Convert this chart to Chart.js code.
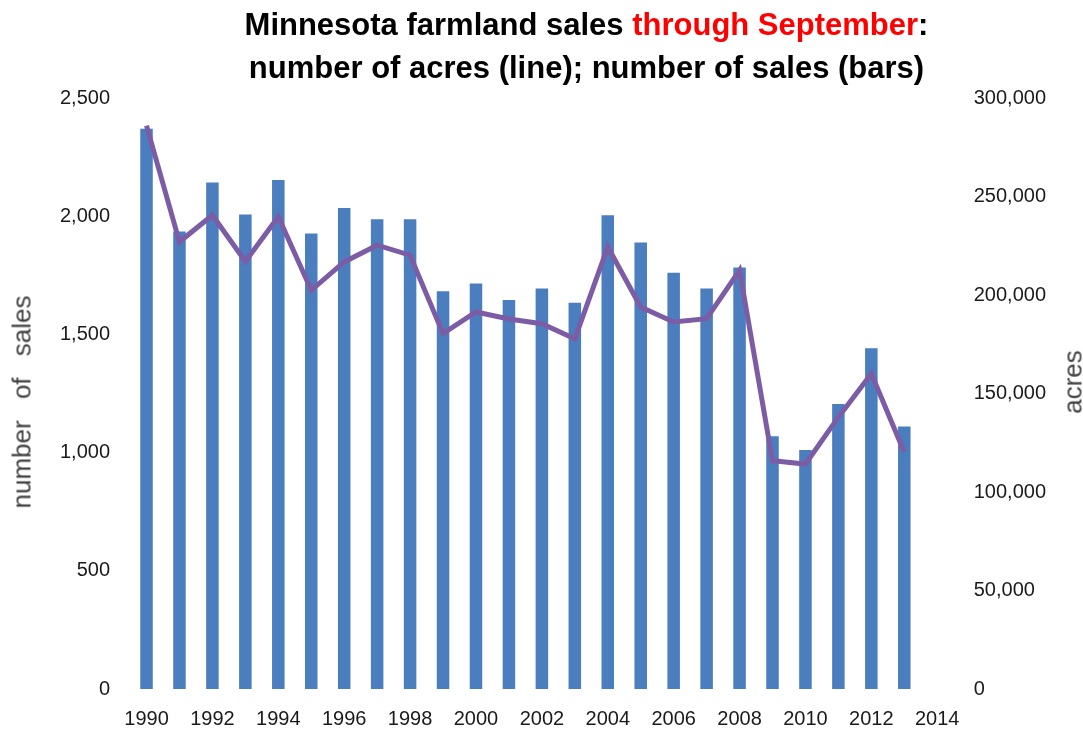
<!DOCTYPE html>
<html>
<head>
<meta charset="utf-8">
<script src="https://cdn.jsdelivr.net/npm/chart.js@4.4.1/dist/chart.umd.min.js"></script>
<style>
  html, body { margin: 0; padding: 0; background: #fff; }
  #wrap { position: relative; width: 1083px; height: 732px; overflow: hidden; }
  #salesChart { position: absolute; left: 0; top: 0; }
  .chart-title {
    position: absolute; left: 90px; top: 3px; width: 993px;
    text-align: center; font: bold 31px/43px "Liberation Sans", Arial, sans-serif;
    color: #000;
  }
  .chart-title .hl { color: #ff0000; }
  .axis-title {
    position: absolute; font: 26px "Liberation Sans", Arial, sans-serif;
    color: #404040; white-space: nowrap;
    transform: translate(-50%, -50%) rotate(-90deg);
  }
  #leftTitle { left: 22px; top: 402px; word-spacing: 14px; }
  #rightTitle { left: 1073px; top: 382px; }
</style>
</head>
<body>
<div id="wrap">
  <canvas id="salesChart" width="1083" height="732"></canvas>
  <div class="chart-title">Minnesota farmland sales <span class="hl">through September</span>:<br>number of acres (line); number of sales (bars)</div>
  <div class="axis-title" id="leftTitle">number of sales</div>
  <div class="axis-title" id="rightTitle">acres</div>
</div>
<script>
// Farmland sales, January-September of each year
const years = ['1990', '1991', '1992', '1993', '1994', '1995', '1996', '1997', '1998', '1999',
  '2000', '2001', '2002', '2003', '2004', '2005', '2006', '2007', '2008', '2009',
  '2010', '2011', '2012', '2013', '2014'];

// number of sales (bars, left axis)
const salesCount = [2370, 1935, 2143, 2007, 2153, 1927, 2035, 1987, 1987, 1683,
  1715, 1645, 1694, 1634, 2004, 1889, 1761, 1694, 1783, 1069,
  1011, 1206, 1441, 1110];

// number of acres sold (line, right axis)
const acresSold = [286000, 227000, 240500, 217000, 239700, 202400, 216800, 225300, 220200, 180400,
  191400, 187800, 185400, 177800, 224400, 193900, 186300, 188000, 212500, 115900,
  114200, 138000, 160000, 120200];

const salesTicks = { min: 0, max: 2500, step: 500 };
const acresTicks = { min: 0, max: 300000, step: 50000 };

const tickFont = { family: '"Liberation Sans", Arial, sans-serif', size: 20 };

const ctx = document.getElementById('salesChart').getContext('2d');
const salesChart = new Chart(ctx, {
  type: 'bar',
  data: {
    labels: years,
    datasets: [
      {
        type: 'line',
        label: 'acres',
        data: acresSold,
        yAxisID: 'yAcres',
        borderColor: '#7D5CA6',
        borderWidth: 5,
        pointRadius: 0,
        tension: 0,
        fill: false,
        order: 0
      },
      {
        type: 'bar',
        label: 'number of sales',
        data: salesCount,
        yAxisID: 'ySales',
        backgroundColor: '#4A7EBF',
        borderWidth: 0,
        barPercentage: 0.38,
        categoryPercentage: 1,
        order: 1
      }
    ]
  },
  options: {
    responsive: false,
    animation: false,
    devicePixelRatio: 1,
    layout: { padding: { top: 98, left: 40, right: 17, bottom: -17 } },
    plugins: {
      legend: { display: false },
      title: { display: false },
      tooltip: { enabled: false }
    },
    scales: {
      x: {
        grid: { display: false, drawTicks: false },
        border: { display: false },
        ticks: {
          font: tickFont,
          color: '#1a1a1a',
          padding: 18,
          maxRotation: 0,
          autoSkip: false,
          callback: function(value, index) {
            return index % 2 === 0 ? this.getLabelForValue(value) : '';
          }
        }
      },
      ySales: {
        position: 'left',
        min: salesTicks.min,
        max: salesTicks.max,
        grid: { display: false, drawTicks: false },
        border: { display: false },
        ticks: { stepSize: salesTicks.step, font: tickFont, color: '#1a1a1a', padding: 20 }
      },
      yAcres: {
        position: 'right',
        min: acresTicks.min,
        max: acresTicks.max,
        grid: { display: false, drawTicks: false },
        border: { display: false },
        ticks: { stepSize: acresTicks.step, font: tickFont, color: '#1a1a1a', padding: 20 }
      }
    }
  }
});
</script>
</body>
</html>
